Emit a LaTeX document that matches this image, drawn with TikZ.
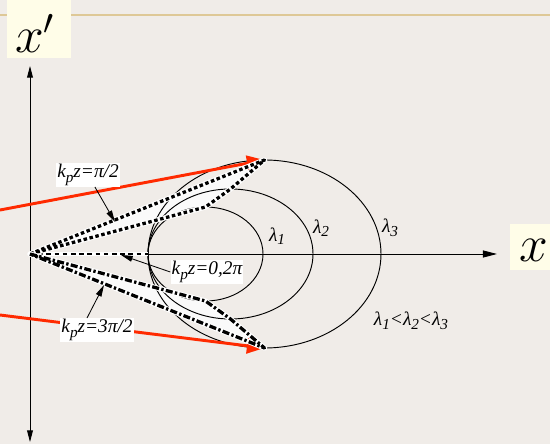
\RequirePackage{fix-cm}
\documentclass[tikz,border=0pt]{standalone}
\usepackage{fontspec}
\setmainfont{Liberation Serif}
\usetikzlibrary{arrows.meta}
\definecolor{bgcol}{RGB}{240,236,232}
\definecolor{boxcol}{RGB}{255,253,232}
\definecolor{rulecol}{RGB}{222,200,150}
\definecolor{raycol}{RGB}{255,42,0}
\newcommand{\lowp}{\raisebox{-0.5ex}{\fontsize{13}{13}\selectfont p}}
\newcommand{\lam}[1]{λ\raisebox{-0.4ex}{\fontsize{13}{13}\selectfont #1}}

\begin{document}
\begin{tikzpicture}[x=0.03cm,y=0.03cm,
  every node/.style={font=\fontsize{16.5}{19}\selectfont\itshape},
  lbl/.style={fill=white,inner sep=1pt},
  axname/.style={anchor=base west,inner sep=0pt,font=\fontsize{44}{52}\selectfont},
  redray/.style={raycol,line width=2.5pt,-{Triangle[length=15pt,width=13pt]}},
  pointer/.style={line width=0.7pt,-{Triangle[length=10pt,width=5pt]}},
  lens/.style={fill=white!98!black,draw=none},
  beamA/.style={draw=white,line width=4.4pt,line join=round,
    postaction={draw=black,line width=2.8pt,dash pattern=on 3pt off 2.2pt}},
  beamB/.style={draw=white,line width=4.4pt,line join=round,
    postaction={draw=black,line width=2.8pt,dash pattern=on 6pt off 2pt on 2pt off 2pt}}]
  \useasboundingbox (0,0) rectangle (550,444);
  \fill[bgcol] (0,0) rectangle (550,444);
  \draw[rulecol,line width=1pt] (0,429) -- (550,429);
  % points
  \coordinate (O) at (30,190);
  \coordinate (L) at (148,190);
  \coordinate (A1) at (205.5,237);
  \coordinate (A2) at (230.5,255);
  \coordinate (A3) at (264.5,284);
  \coordinate (B1) at (205.5,143);
  \coordinate (B2) at (230.5,125);
  \coordinate (B3) at (264.5,96);
  % beams
  \fill[lens] (O)--(A3)--(A2)--(A1)--cycle;
  \fill[lens] (O)--(B1)--(B2)--(B3)--cycle;
  % wavelength curves
  \draw[line width=0.8pt] (205.5,190) ellipse [x radius=57.5,y radius=47];
  \draw[line width=0.8pt] (230.5,190) ellipse [x radius=82.5,y radius=65];
  \draw[line width=0.8pt] (264.5,190) ellipse [x radius=116.5,y radius=94];
  % axes
  \coordinate (YB) at (30,2);
  \coordinate (YT) at (30,378);
  \coordinate (XE) at (497,190);
  \draw[line width=0.8pt,{Triangle[length=10pt,width=5pt]}-{Triangle[length=10pt,width=5pt]}] (YB) -- (YT);
  \draw[line width=0.8pt,-{Triangle[length=12pt,width=6pt]}] (L) -- (XE);
  \draw[draw=white,line width=3pt,postaction={draw=black,line width=1.8pt,dash pattern=on 4pt off 3pt}] (O) -- (L);
  % rays
  \coordinate (R1) at (0,234);
  \coordinate (R2) at (0,129);
  \draw[redray] (R1) -- (A3);
  \draw[redray] (R2) -- (B3);
  \draw[beamA] (O)--(A3)--(A2)--(A1)--cycle;
  \draw[beamB] (O)--(B1)--(B2)--(B3)--cycle;
  % labels
  \node[lbl] (kA) at (88,269) {k\lowp z=π/2};
  \node[lbl] (kB) at (207,172) {k\lowp z=0,2π};
  \node[lbl] (kC) at (97,114) {k\lowp z=3π/2};
  \coordinate (tA) at (115,222);
  \coordinate (tB) at (121,189);
  \coordinate (tC) at (104,159);
  \draw[pointer] (kA) -- (tA);
  \draw[pointer] (kB.west) -- (tB);
  \draw[pointer] ([xshift=-0.3cm]kC.north) -- (tC);
  \node (l1) at (277,208) {\lam{1}};
  \node (l2) at (321,216) {\lam{2}};
  \node (l3) at (390,216) {\lam{3}};
  \node (lo) at (411,123) {\lam{1}<\lam{2}<\lam{3}};
  % axis names
  \fill[boxcol] (7,386) rectangle (71,444);
  \fill[boxcol] (510,174) rectangle (550,220);
  \node[axname] (xp) at (15,391) {$x'$};
  \node[axname] (xa) at (519,182) {$x$};
\end{tikzpicture}
\end{document}
